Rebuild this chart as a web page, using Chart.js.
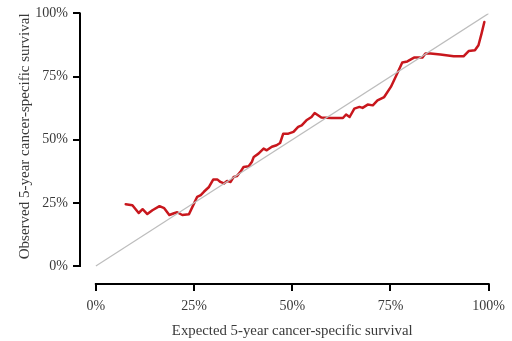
<!DOCTYPE html>
<html>
<head>
<meta charset="utf-8">
<script src="https://cdn.jsdelivr.net/npm/chart.js@4/dist/chart.umd.min.js"></script>
<style>
  html, body { margin: 0; padding: 0; background: #fff; }
</style>
</head>
<body>
<canvas id="calib" width="512" height="341"></canvas>
<script>
// Calibration curve: expected vs observed 5-year cancer-specific survival (%)
const expected = [7.6, 9.3, 10.9, 11.9, 13.1, 14.4, 16.2, 17.4, 18.7, 19.9, 20.7, 22.0, 23.7,
  25.0, 25.8, 26.7, 27.5, 28.8, 29.9, 30.9, 31.7, 32.6, 33.4, 34.3, 35.1, 35.9, 36.8, 37.6,
  38.9, 39.7, 40.2, 41.4, 42.7, 43.5, 44.8, 46.0, 46.9, 47.7, 49.0, 50.3, 51.5, 52.4, 53.6,
  54.9, 55.7, 57.4, 59.9, 62.9, 63.7, 64.6, 65.8, 67.1, 67.9, 69.2, 70.5, 71.7, 73.4, 75.1,
  76.3, 78.0, 79.3, 81.0, 83.1, 83.9, 85.2, 87.7, 91.1, 93.6, 94.9, 96.5, 97.4, 98.2, 98.9];
const observed = [24.5, 24.1, 21.0, 22.5, 20.6, 22.1, 23.7, 22.9, 20.2, 20.9, 21.3, 20.2, 20.5,
  24.8, 27.4, 28.1, 29.4, 31.3, 34.3, 34.3, 33.3, 32.7, 33.7, 33.3, 35.3, 35.6, 37.3, 39.2,
  39.5, 41.2, 43.2, 44.5, 46.5, 45.8, 47.2, 47.8, 48.7, 52.4, 52.4, 53.1, 55.1, 55.7, 57.7,
  59.0, 60.6, 58.8, 58.6, 58.6, 60.0, 59.0, 62.3, 63.0, 62.6, 63.9, 63.6, 65.6, 66.9, 70.9,
  74.8, 80.6, 81.0, 82.5, 82.5, 84.1, 84.1, 83.7, 83.0, 83.0, 85.1, 85.4, 87.4, 92.1, 96.6];

// Perfect-calibration diagonal
const idealX = [0, 100];
const idealY = [0, 100];

const tickValues = [0, 25, 50, 75, 100];
const xTitle = 'Expected 5-year cancer-specific survival';
const yTitle = 'Observed 5-year cancer-specific survival';

const serif = "'Liberation Serif', 'DejaVu Serif', serif";
const textColor = '#3a3a3a';

// Axis lines span only the 0–100% range, detached at the corner
const detachedAxes = {
  id: 'detachedAxes',
  afterDraw(chart) {
    const { ctx, scales: { x, y }, chartArea } = chart;
    ctx.save();
    ctx.strokeStyle = '#000';
    ctx.lineWidth = 2;
    ctx.lineCap = 'square';
    ctx.beginPath();
    ctx.moveTo(x.getPixelForValue(0), chartArea.bottom);
    ctx.lineTo(x.getPixelForValue(100), chartArea.bottom);
    ctx.moveTo(chartArea.left, y.getPixelForValue(0));
    ctx.lineTo(chartArea.left, y.getPixelForValue(100));
    ctx.stroke();
    // x-axis title centred under the 0–100% span
    ctx.fillStyle = textColor;
    ctx.font = "14.8px " + serif;
    ctx.textAlign = 'center';
    ctx.textBaseline = 'middle';
    ctx.fillText(xTitle, (x.getPixelForValue(0) + x.getPixelForValue(100)) / 2, 331);
    ctx.restore();
  }
};

const fixedTicks = (scale) => { scale.ticks = tickValues.map(v => ({ value: v })); };

new Chart(document.getElementById('calib'), {
  type: 'line',
  data: {
    datasets: [
      {
        label: 'Ideal',
        data: idealX.map((v, i) => ({ x: v, y: idealY[i] })),
        borderColor: '#bdbdbd',
        borderWidth: 1.2,
        pointRadius: 0,
        tension: 0
      },
      {
        label: 'Observed',
        data: expected.map((v, i) => ({ x: v, y: observed[i] })),
        borderColor: '#c8171d',
        borderWidth: 2.5,
        borderJoinStyle: 'round',
        borderCapStyle: 'round',
        pointRadius: 0,
        tension: 0
      }
    ]
  },
  options: {
    responsive: false,
    animation: false,
    layout: { padding: { top: 13, right: 20, bottom: 0, left: 0 } },
    plugins: { legend: { display: false }, tooltip: { enabled: false } },
    scales: {
      x: {
        type: 'linear',
        min: -4.04,
        max: 100,
        afterBuildTicks: fixedTicks,
        afterFit: (s) => { s.height = 57; },
        border: { display: false },
        grid: { drawOnChartArea: false, drawTicks: true, tickLength: 7, color: '#000', lineWidth: 2 },
        ticks: {
          padding: 7,
          maxRotation: 0,
          color: textColor,
          font: { family: serif, size: 14 },
          callback: (v) => v + '%'
        }
      },
      y: {
        type: 'linear',
        min: -7.1,
        max: 100,
        afterBuildTicks: fixedTicks,
        afterFit: (s) => { s.width = 80; },
        border: { display: false },
        grid: { drawOnChartArea: false, drawTicks: true, tickLength: 7, color: '#000', lineWidth: 2 },
        ticks: {
          padding: 5,
          color: textColor,
          font: { family: serif, size: 14 },
          callback: (v) => v + '%'
        },
        title: {
          display: true,
          text: yTitle,
          align: 'end',
          color: textColor,
          font: { family: serif, size: 15 },
          padding: { top: 16, bottom: 0 }
        }
      }
    }
  },
  plugins: [detachedAxes]
});
</script>
</body>
</html>
